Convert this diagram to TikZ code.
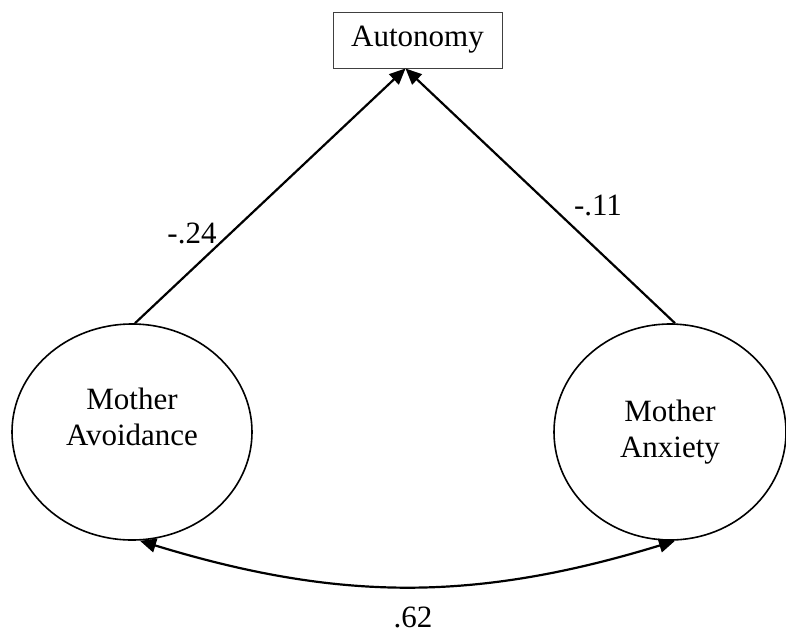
\documentclass[tikz,border=0pt]{standalone}
\usepackage{fontspec}
\setmainfont{Liberation Serif}
\usetikzlibrary{arrows.meta,shapes.geometric}
\begin{document}
\begin{tikzpicture}[x=1pt,y=-1pt,font=\fontsize{31}{36}\selectfont,
  effect/.style={line width=2.2pt,-{Triangle[length=16pt,width=14pt]}},
  latent/.style={draw,ellipse,line width=1.6pt,align=center,inner sep=0pt}]

\useasboundingbox (0,0) rectangle (786,633);

\def\WIDTH{240}
\def\HEIGHT{216}

% observed and latent variables
\node at (417.5,40) [draw=black!75,line width=1pt,minimum width=169pt,minimum height=56pt,inner sep=0pt] (auto) {Autonomy};
\node at (132,432) [latent,minimum width=\WIDTH pt,minimum height=\HEIGHT pt] (avoid) {Mother\\Avoidance\\[-6pt]};
\node at (670,432) [latent,minimum width=232pt,minimum height=\HEIGHT pt] (anx) {Mother\\Anxiety};

% paths
\draw[effect] ([xshift=3pt]avoid.north) -- ([xshift=-12pt]auto.south);
\draw[effect] ([xshift=5pt]anx.north) -- ([xshift=-12pt]auto.south);
\draw[effect,{Triangle[length=16pt,width=14pt]}-{Triangle[length=16pt,width=14pt]}] ([xshift=8pt]avoid.south) to[bend right=17] ([xshift=5pt]anx.south);

% coefficients
\node at (192,233) (b1) {-.24};
\node at (598,205) (b2) {-.11};
\node at (413,617) (r1) {.62};

\end{tikzpicture}
\end{document}
